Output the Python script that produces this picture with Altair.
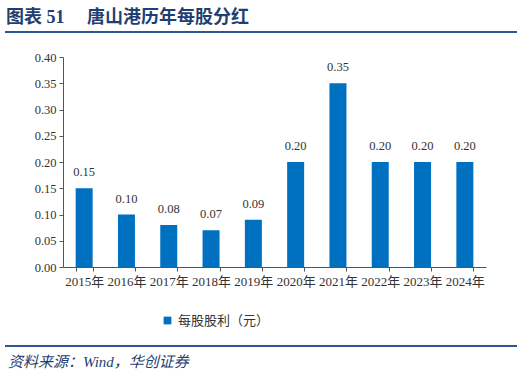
import altair as alt
import pandas as pd

years = ["2015年", "2016年", "2017年", "2018年", "2019年", "2020年", "2021年", "2022年", "2023年", "2024年"]
dps = [0.15, 0.10, 0.08, 0.07, 0.09, 0.20, 0.35, 0.20, 0.20, 0.20]
series_name = "每股股利（元）"
title_text = "图表 51　 唐山港历年每股分红"
source_text = "资料来源：Wind，华创证券"
y_ticks = [0, 0.05, 0.1, 0.15, 0.2, 0.25, 0.3, 0.35, 0.4]

df = pd.DataFrame({"year": years, "value": dps, "series": series_name})
df["label"] = [f"{v:.2f}" for v in dps]

FONT = "Liberation Serif, Noto Sans CJK SC"
BLUE = "#0070C0"
NAVY = "#1F3F73"

base = alt.Chart(df)

x_enc = alt.X("year:N", sort=years, title=None,
              scale=alt.Scale(paddingInner=0.6, paddingOuter=0.3),
              axis=alt.Axis(labelAngle=0, labelFont=FONT, labelFontSize=13, labelColor="#333333",
                            domainColor="#555555", tickColor="#555555", tickSize=4,
                            tickBand="extent", labelPadding=4, labelOverlap=False))
y_enc = alt.Y("value:Q", title=None,
              scale=alt.Scale(domain=[0, 0.4], nice=False),
              axis=alt.Axis(values=y_ticks, format=".2f",
                            grid=False, labelFont=FONT, labelFontSize=12.5, labelColor="#333333",
                            domainColor="#555555", tickColor="#555555", tickSize=4, labelPadding=3,
                            labelOverlap=False, labelFlush=False))

bars = base.mark_bar(size=17).encode(
    x=x_enc, y=y_enc,
    color=alt.Color("series:N", scale=alt.Scale(range=[BLUE]),
                    legend=alt.Legend(orient="none", legendX=98, legendY=257, title=None,
                                      symbolType="square", symbolSize=60, labelFont=FONT,
                                      labelFontSize=13, labelColor="#333333", symbolStrokeWidth=0))
)

labels = base.mark_text(baseline="bottom", dy=-9, font=FONT, fontSize=12.5, color="#333333").encode(
    x=x_enc, y=y_enc, text="label:N"
)

title_df = pd.DataFrame({"t": [title_text]})
title = alt.Chart(title_df).mark_text(align="left", baseline="middle", font=FONT, fontSize=18,
                                       fontWeight="bold", color=NAVY).encode(
    x=alt.value(-57), y=alt.value(-39), text="t:N")

src_df = pd.DataFrame({"t": [source_text]})
source = alt.Chart(src_df).mark_text(align="left", baseline="middle", font=FONT, fontSize=15,
                                      fontStyle="italic", color=NAVY).encode(
    x=alt.value(-55), y=alt.value(305), text="t:N")

line_top = alt.Chart(title_df).mark_rule(color="#2F5597", strokeWidth=2).encode(
    x=alt.value(-58), x2=alt.value(454), y=alt.value(-25))
line_bot = alt.Chart(title_df).mark_rule(color="#2F5597", strokeWidth=2).encode(
    x=alt.value(-58), x2=alt.value(454), y=alt.value(289))

chart = alt.layer(bars, labels, title, source, line_top, line_bot).properties(
    width=423, height=210,
    autosize=alt.AutoSizeParams(type="none"),
    padding={"left": 63, "top": 57, "right": 38, "bottom": 111},
    background="white",
).configure_view(stroke=None)

chart.save("out.html", embed_options={"renderer": "svg", "actions": False})
